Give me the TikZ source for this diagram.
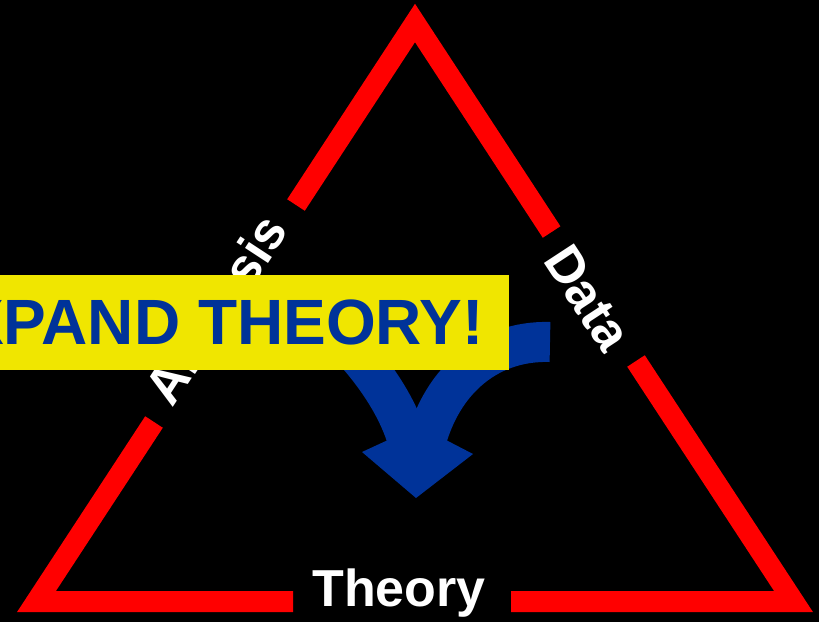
\documentclass[tikz,border=0pt]{standalone}
\usepackage{fontspec}
\setmainfont{Liberation Sans}

\definecolor{edgered}{RGB}{255,0,0}
\definecolor{arrowblue}{RGB}{0,51,153}
\definecolor{banneryellow}{RGB}{240,230,0}

\begin{document}
\begin{tikzpicture}[x=1pt, y=-1pt,
    side/.style={edgered, line width=21pt, line join=miter, miter limit=10},
    cornerlabel/.style={text=white, inner sep=0pt, font=\bfseries\fontsize{52pt}{62pt}\selectfont},
    flow/.style={arrowblue, line width=40pt}]
    % Page and background
    \useasboundingbox (0,0) rectangle (819,622);
    \clip (0,0) rectangle (819,622);
    \fill[black] (0,0) rectangle (819,622);

    % Triangle corners (centre line of the stroke)
    \coordinate (top) at (415,23);
    \coordinate (left) at (36.5,601.5);
    \coordinate (right) at (793.5,601.5);

    % Sides, with gaps for the labels
    \draw[side] (296,205) -- (top) -- (551.6,232);
    \draw[side] (154,422) -- (left) -- (293,601.5);
    \draw[side] (511,601.5) -- (right) -- (636,361);

    % Labels
    \node[cornerlabel, rotate=56.8] (analysis) at (220,312) {Analysis};
    \node[cornerlabel, rotate=-56.8] (data) at (588,298) {Data};
    \node[cornerlabel, anchor=base] (theory) at (399,606) {Theory};

    % Blue arrow into Theory
    \coordinate (tip) at (416,498);
    \draw[flow] (300,300) .. controls (350,340) and (398,395) .. (410,450);
    \draw[flow] (550,342) .. controls (485,340) and (438,385) .. (424,450);
    \fill[arrowblue] (362,452) -- (tip) -- (473,454) -- (446,440) -- (388,440) -- cycle;

    % Banner
    \node[fill=banneryellow, text=arrowblue, anchor=east, inner xsep=25pt,
          minimum height=95pt, font=\bfseries\fontsize{64pt}{72pt}\selectfont]
          (banner) at (509,322) {EXPAND THEORY!};
\end{tikzpicture}
\end{document}
